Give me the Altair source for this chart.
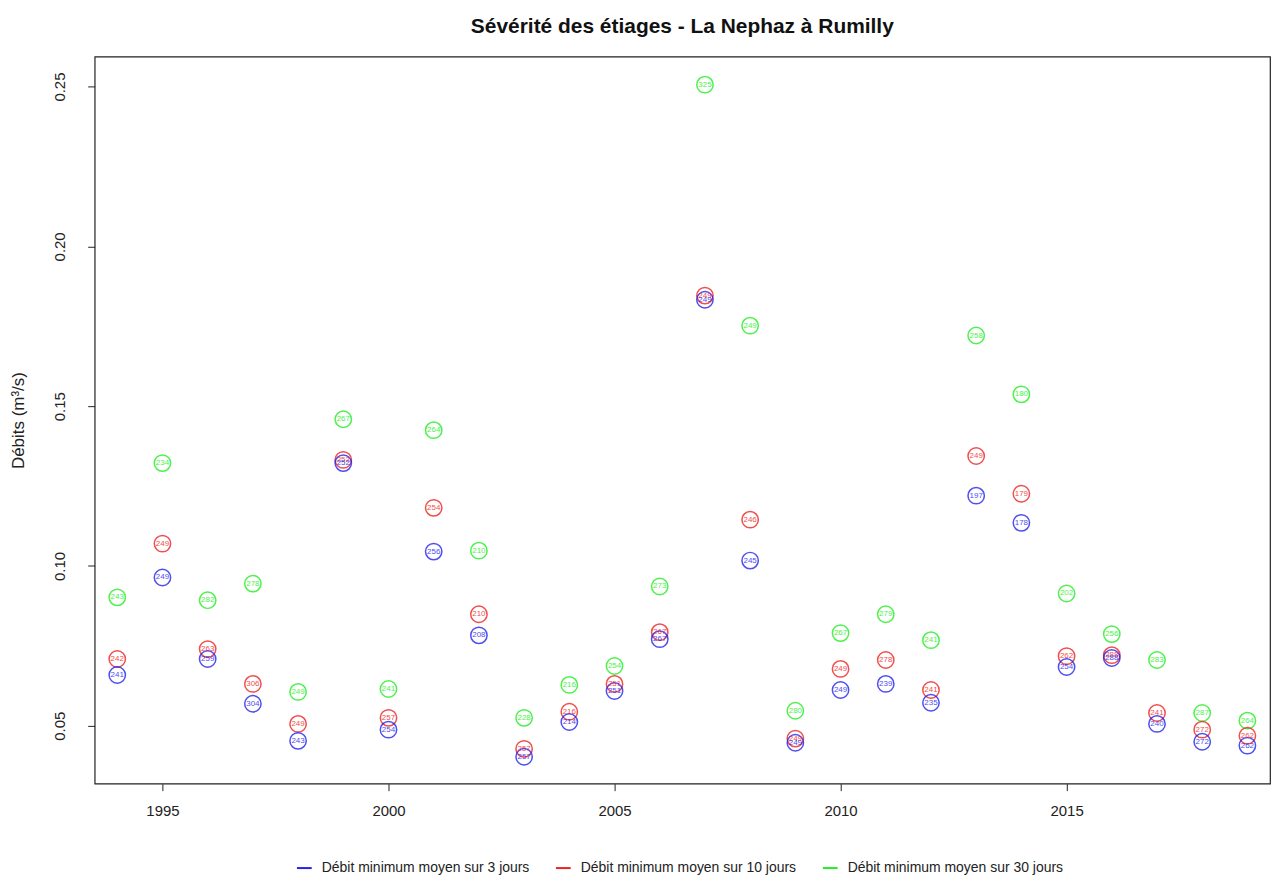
import altair as alt
import pandas as pd

years = list(range(1994, 2020))

q3 = [0.0659, 0.0964, 0.0709, 0.0569, 0.0453, 0.1322, 0.0488, 0.1045, 0.0783, 0.0403,
      0.0512, 0.0609, 0.0771, 0.1833, 0.1017, 0.0447, 0.0612, 0.0631, 0.0572, 0.1220,
      0.1135, 0.0684, 0.0712, 0.0506, 0.0450, 0.0438]
q10 = [0.0709, 0.1070, 0.0740, 0.0631, 0.0506, 0.1332, 0.0525, 0.1182, 0.0849, 0.0428,
       0.0544, 0.0631, 0.0793, 0.1846, 0.1145, 0.0460, 0.0678, 0.0706, 0.0612, 0.1344,
       0.1226, 0.0718, 0.0721, 0.0540, 0.0488, 0.0469]
q30 = [0.0902, 0.1322, 0.0893, 0.0945, 0.0606, 0.1459, 0.0615, 0.1425, 0.1048, 0.0525,
       0.0628, 0.0687, 0.0936, 0.2506, 0.1752, 0.0547, 0.0790, 0.0849, 0.0768, 0.1721,
       0.1537, 0.0914, 0.0787, 0.0706, 0.0540, 0.0516]

d3 = [241, 249, 259, 304, 243, 252, 254, 256, 208, 257, 214, 251, 267, 249, 245, 249,
      249, 239, 235, 197, 178, 254, 288, 240, 272, 262]
d10 = [242, 249, 263, 306, 249, 252, 257, 254, 210, 257, 216, 251, 267, 249, 246, 249,
       249, 278, 241, 249, 179, 262, 288, 241, 272, 262]
d30 = [243, 234, 282, 278, 249, 267, 241, 264, 210, 228, 216, 254, 273, 325, 249, 280,
       267, 279, 241, 258, 180, 202, 256, 283, 287, 264]

series = ["Débit minimum moyen sur 3 jours",
          "Débit minimum moyen sur 10 jours",
          "Débit minimum moyen sur 30 jours"]
colors = ["#2222ee", "#ee2222", "#22ee22"]

rows = []
for name, vals, days, order in [(series[2], q30, d30, 0), (series[1], q10, d10, 1), (series[0], q3, d3, 2)]:
    for y, v, d in zip(years, vals, days):
        rows.append({"annee": y, "debit": v, "jour": str(d), "serie": name, "ordre": order})
df = pd.DataFrame(rows)

x = alt.X("annee:Q", title=None,
          scale=alt.Scale(domain=[1993.5, 2019.5], nice=False, zero=False),
          axis=alt.Axis(values=[1995, 2000, 2005, 2010, 2015], format="d", grid=False,
                        domain=False, tickSize=7, tickColor="#222", labelFontSize=15,
                        labelColor="#222", labelPadding=13, labelFont="Liberation Sans"))
y = alt.Y("debit:Q", title="Débits (m³/s)",
          scale=alt.Scale(domain=[0.0319, 0.2594], nice=False, zero=False),
          axis=alt.Axis(values=[0.05, 0.10, 0.15, 0.20, 0.25], format=".2f", grid=False,
                        domain=False, tickSize=7, tickColor="#222", labelFontSize=15,
                        labelColor="#222", labelAngle=-90, labelAlign="center",
                        labelBaseline="bottom", labelPadding=20, labelFont="Liberation Sans",
                        titleFont="Liberation Sans", titleFontSize=17, titleFontWeight="normal",
                        titleColor="#222", titleAngle=-90, titleX=-76, titleY=365,
                        titleAlign="center", titleBaseline="middle"))
color = alt.Color("serie:N",
                  scale=alt.Scale(domain=series, range=colors),
                  legend=alt.Legend(title=None, orient="none", direction="horizontal",
                                    legendX=202, legendY=806, symbolType="stroke",
                                    symbolStrokeWidth=2, symbolSize=220, labelFontSize=14,
                                    labelFont="Liberation Sans", labelColor="#222",
                                    labelLimit=0, columnPadding=22, labelOffset=9,
                                    symbolOpacity=1))

points = alt.Chart(df).mark_point(shape="circle", filled=False, size=270, strokeWidth=1.5,
                                  opacity=0.8).encode(
    x=x, y=y, color=color, order=alt.Order("ordre:Q"))
labels = alt.Chart(df).mark_text(fontSize=8, font="Liberation Sans", opacity=0.8).encode(
    x=x, y=y, text="jour:N",
    color=alt.Color("serie:N", scale=alt.Scale(domain=series, range=colors), legend=None))

chart = alt.layer(points, labels).properties(
    width=1180, height=730,
    title=alt.TitleParams("Sévérité des étiages - La Nephaz à Rumilly",
                          font="Liberation Sans", fontSize=21, fontWeight="bold",
                          color="#111", anchor="middle", offset=20),
    autosize=alt.AutoSizeParams(type="none"),
    padding={"left": 87, "top": 47, "right": 2, "bottom": 93},
    background="white",
).configure_view(stroke="#222222", strokeWidth=1.2)

chart.save("out.html", embed_options={"renderer": "svg", "actions": False})
